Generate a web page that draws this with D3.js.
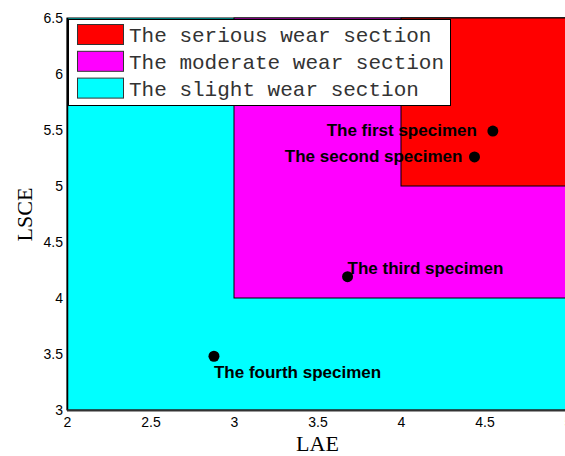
<!DOCTYPE html>
<html>
<head>
<meta charset="utf-8">
<script src="https://cdn.jsdelivr.net/npm/d3@7/dist/d3.min.js"></script>
<style>
  html, body { margin: 0; padding: 0; background: #fff; }
  svg { display: block; }
</style>
</head>
<body>
<svg id="chart" width="565" height="456"></svg>
<script>
// Wear sections, drawn from largest to smallest
const sectionNames = ["The slight wear section", "The moderate wear section", "The serious wear section"];
const sectionX0 = [2, 3, 4];
const sectionX1 = [5, 5, 5];
const sectionY0 = [3, 4, 5];
const sectionY1 = [6.5, 6.5, 6.5];
const sectionColors = ["#00ffff", "#ff00ff", "#ff0000"];

// Specimens measured on the LAE / LSCE plane
const specimenNames = ["The first specimen", "The second specimen", "The third specimen", "The fourth specimen"];
const specimenLAE = [4.55, 4.44, 3.68, 2.88];
const specimenLSCE = [5.49, 5.26, 4.19, 3.48];

const xTicks = [2, 2.5, 3, 3.5, 4, 4.5, 5];
const yTicks = [3, 3.5, 4, 4.5, 5, 5.5, 6, 6.5];

const svg = d3.select("#chart");
const plotL = 67, plotR = 568, plotT = 18, plotB = 410;

const x = d3.scaleLinear().domain([2, 5]).range([plotL, plotR]);
const y = d3.scaleLinear().domain([3, 6.5]).range([plotB, plotT]);

// Sections
const sections = sectionNames.map((n, i) => ({
  name: n, x0: sectionX0[i], x1: sectionX1[i], y0: sectionY0[i], y1: sectionY1[i], color: sectionColors[i]
}));
svg.append("g").selectAll("rect").data(sections).join("rect")
  .attr("x", d => x(d.x0))
  .attr("y", d => y(d.y1))
  .attr("width", d => x(d.x1) - x(d.x0))
  .attr("height", d => y(d.y0) - y(d.y1))
  .attr("fill", d => d.color)
  .attr("stroke", "#000")
  .attr("stroke-width", 1);

// Axes (tick labels only)
const fmt = d => String(d);
const xAxis = svg.append("g").attr("transform", `translate(0,${plotB})`)
  .call(d3.axisBottom(x).tickValues(xTicks).tickFormat(fmt).tickSize(0).tickPadding(6));
const yAxis = svg.append("g").attr("transform", `translate(${plotL},0)`)
  .call(d3.axisLeft(y).tickValues(yTicks).tickFormat(fmt).tickSize(0).tickPadding(4));
[xAxis, yAxis].forEach(a => {
  a.select(".domain").remove();
  a.selectAll("text").attr("font-family", "Liberation Sans, Arial, sans-serif")
    .attr("font-size", 14).attr("fill", "#000");
});
yAxis.selectAll("text").attr("dy", "0.35em");
xAxis.selectAll("text").attr("dy", "0.8em");

// Axis lines
svg.append("line").attr("x1", plotL + 0.5).attr("x2", plotL + 0.5).attr("y1", plotT).attr("y2", plotB)
  .attr("stroke", "#000").attr("stroke-width", 1.5);
svg.append("line").attr("x1", plotL).attr("x2", plotR).attr("y1", plotB + 0.5).attr("y2", plotB + 0.5)
  .attr("stroke", "#333").attr("stroke-width", 2);

// Axis titles
svg.append("text").attr("x", x(3.5)).attr("y", 451).attr("text-anchor", "middle")
  .attr("font-family", "Liberation Serif, Times New Roman, serif").attr("font-size", 22)
  .text("LAE");
svg.append("text").attr("transform", `translate(32,214.5) rotate(-90)`)
  .attr("text-anchor", "middle")
  .attr("font-family", "Liberation Serif, Times New Roman, serif").attr("font-size", 22)
  .text("LSCE");

// Specimen points and labels
const specimens = specimenNames.map((n, i) => ({ name: n, lae: specimenLAE[i], lsce: specimenLSCE[i] }));
const labelPos = [
  { dx: -16, dy: 5, anchor: "end" },
  { dx: -12, dy: 5.5, anchor: "end" },
  { dx: 0, dy: -3, anchor: "start" },
  { dx: 0, dy: 22, anchor: "start" }
];
svg.append("g").selectAll("circle").data(specimens).join("circle")
  .attr("cx", d => x(d.lae)).attr("cy", d => y(d.lsce)).attr("r", 5.5).attr("fill", "#000");
svg.append("g").selectAll("text").data(specimens).join("text")
  .attr("x", (d, i) => x(d.lae) + labelPos[i].dx)
  .attr("y", (d, i) => y(d.lsce) + labelPos[i].dy)
  .attr("text-anchor", (d, i) => labelPos[i].anchor)
  .attr("font-family", "Liberation Sans, Arial, sans-serif")
  .attr("font-weight", "bold").attr("font-size", 17).attr("fill", "#000")
  .text(d => d.name);

// Legend (serious first)
const legendItems = sections.slice().reverse();
const lg = svg.append("g");
lg.append("rect").attr("x", 68.5).attr("y", 19.5).attr("width", 382).attr("height", 86)
  .attr("fill", "#fff").attr("stroke", "#000").attr("stroke-width", 1);
const rowH = 26.8;
legendItems.forEach((d, i) => {
  lg.append("rect").attr("x", 77.5).attr("y", 24.5 + i * rowH).attr("width", 46).attr("height", 20)
    .attr("fill", d.color).attr("stroke", "#333").attr("stroke-width", 1);
  lg.append("text").attr("x", 129).attr("y", 42 + i * rowH)
    .attr("font-family", "Liberation Mono, Courier New, monospace")
    .attr("font-size", 21).attr("fill", "#333")
    .text(d.name);
});
</script>
</body>
</html>
